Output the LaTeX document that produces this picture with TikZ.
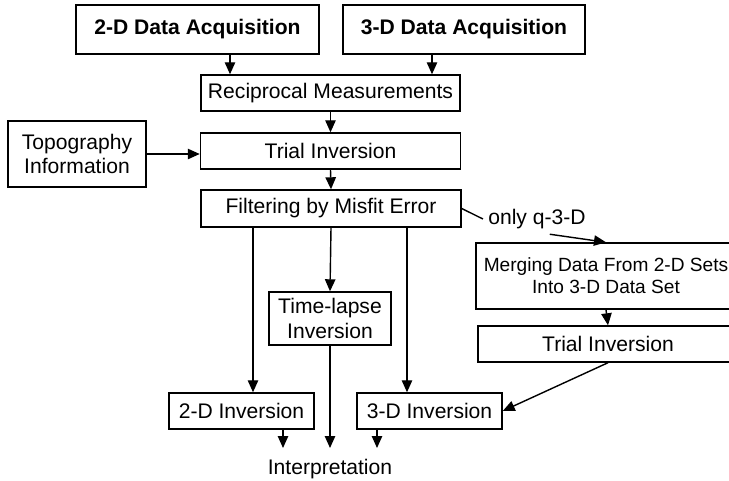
\documentclass[tikz,border=0pt]{standalone}
\usepackage{fontspec}
\setmainfont{Liberation Sans}
\usetikzlibrary{arrows.meta}

\begin{document}
\begin{tikzpicture}
		[x=0.025cm,y=-0.025cm,line width=1pt,
		>={Triangle[length=3mm,width=2.6mm]},
		box/.style={rectangle,draw=black,inner sep=0pt,minimum height=.9cm,align=center,font=\fontsize{15}{17.7}\selectfont},
		head/.style={box,minimum height=1.225cm,font=\fontsize{15}{17.7}\selectfont\bfseries},
		plain/.style={draw=none,fill=none,font=\fontsize{15}{17.7}\selectfont}
		]
		\useasboundingbox (0,0) rectangle (729,480);

		\node[head,minimum width=6.075cm] (acqtwo) at (197.5,29.5){2-D Data Acquisition};
		\node[head,minimum width=6.05cm] (acqthree) at (464,29.5){3-D Data Acquisition};
		\node[box,minimum width=6.475cm] (recip) at (330.5,93){Reciprocal Measurements};
		\node[box,minimum width=3.45cm,minimum height=1.65cm] (topo) at (77,154){Topography\\Information};
		\node[box,minimum width=6.5cm] (trial) at (330.5,151){Trial Inversion};
		\node[box,minimum width=6.5cm,minimum height=.925cm] (filter) at (331,208.5){Filtering by Misfit Error};
		\node[box,minimum width=3.05cm,minimum height=1.325cm] (tlapse) at (330,318.5){Time-lapse\\Inversion};
		\node[box,minimum width=6.5cm,minimum height=1.65cm,font=\fontsize{13.6}{15.6}\selectfont] (merge) at (606,276){Merging Data From 2-D Sets\\Into 3-D Data Set};
		\node[box,minimum width=6.5cm] (trialtwo) at (608,344){Trial Inversion};
		\node[box,minimum width=3.625cm] (invtwo) at (241.5,411){2-D Inversion};
		\node[box,minimum width=3.625cm] (invthree) at (429.5,411){3-D Inversion};
		\node[plain,anchor=base,inner sep=.25cm] (interp) at (330,474){Interpretation};
		\node[plain] (only) at (537,219){only q-3-D};

\coordinate (colA) at (230,0);
\coordinate (colB) at (432,0);
\coordinate (colC) at (253,0);
\coordinate (colD) at (407,0);
\coordinate (colE) at (283,0);
\coordinate (colF) at (377,0);

		\draw[->] (acqtwo.south -| colA) -- (recip.north -| colA);
		\draw[->] (acqthree.south -| colB) -- (recip.north -| colB);
		\draw[->] (recip.south) -- (trial.north);
		\draw[->] (topo.east) -- (topo.east -| trial.west);
		\draw[->] (trial.south) -- (filter.north);
		\draw[->] (filter.south) -- (tlapse.north);
		\draw[->] (filter.south -| colC) -- (invtwo.north -| colC);
		\draw[->] (filter.south -| colD) -- (invthree.north -| colD);
		\draw (filter.east) -- (only.west);
		\draw[->] (only.310) -- (merge.north);
		\draw[->] (merge.south) -- (trialtwo.north);
		\draw[->] (trialtwo.south) -- (invthree.east);
		\draw[->] (tlapse.south) -- (interp.north);
		\draw[->] (invtwo.south -| colE) -- (interp.north -| colE);
		\draw[->] (invthree.south -| colF) -- (interp.north -| colF);
	\end{tikzpicture}
\end{document}
